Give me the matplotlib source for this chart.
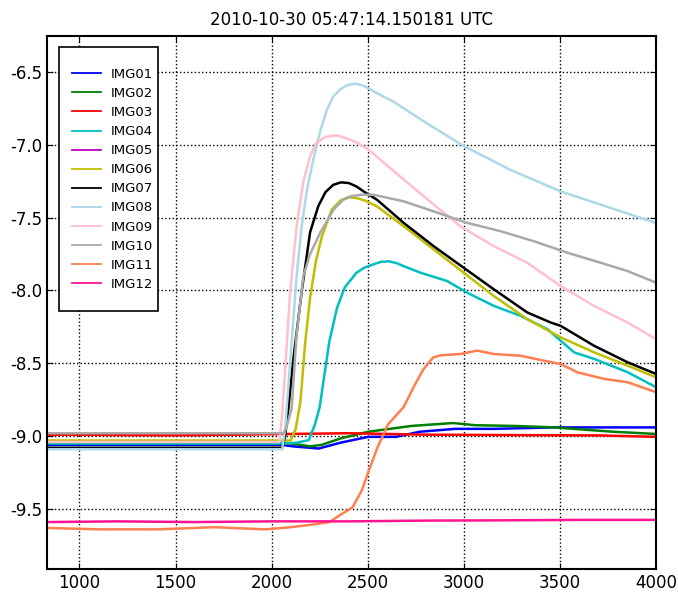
import numpy as np
import matplotlib
matplotlib.use("Agg")
import matplotlib.pyplot as plt
from matplotlib.path import Path

plt.rcParams['axes.unicode_minus'] = False
plt.rcParams['font.family'] = ['DejaVu Sans']

# ---- datos ----
t01 = [831, 2050, 2110, 2245, 2358, 2502, 2646, 2770, 2955, 3160, 3469, 3675, 4000]
v01 = [-9.06, -9.06, -9.07, -9.085, -9.045, -9.005, -9.005, -8.97, -8.95, -8.95, -8.94, -8.94, -8.94]

t02 = [831, 2100, 2200, 2260, 2358, 2502, 2728, 2944, 3058, 3263, 3469, 3778, 4000]
v02 = [-9.05, -9.05, -9.07, -9.06, -9.016, -8.97, -8.93, -8.91, -8.925, -8.93, -8.94, -8.97, -8.985]

t03 = [831, 1500, 2100, 2400, 2800, 3300, 3700, 4000]
v03 = [-8.99, -8.995, -8.985, -8.98, -8.99, -8.993, -8.995, -9.005]

t04 = [831, 2080, 2132, 2193, 2225, 2250, 2300, 2340, 2380, 2440, 2480, 2530, 2570, 2610,
       2650, 2687, 2774, 2913, 3017, 3156, 3295, 3434, 3574, 3678, 3852, 4000]
v04 = [-9.05, -9.05, -9.045, -9.027, -8.92, -8.8, -8.35, -8.12, -7.98, -7.88, -7.845, -7.82,
       -7.803, -7.8, -7.812, -7.833, -7.878, -7.935, -8.015, -8.106, -8.174, -8.265, -8.425,
       -8.47, -8.561, -8.664]

t05 = []
v05 = []

t06 = [831, 2100, 2125, 2150, 2175, 2200, 2230, 2261, 2313, 2360, 2400, 2440, 2490, 2548,
       2687, 2843, 2999, 3156, 3330, 3504, 3678, 3852, 4000]
v06 = [-9.03, -9.03, -8.95, -8.76, -8.35, -8.05, -7.8, -7.63, -7.445, -7.38, -7.36, -7.365,
       -7.385, -7.423, -7.559, -7.718, -7.878, -8.038, -8.197, -8.322, -8.425, -8.516, -8.596]

t07 = [831, 2055, 2070, 2087, 2113, 2156, 2200, 2243, 2280, 2320, 2360, 2400, 2440, 2490,
       2548, 2687, 2843, 2999, 3156, 3330, 3452, 3504, 3678, 3852, 4000]
v07 = [-9.08, -9.08, -9.0, -8.81, -8.47, -8.01, -7.6, -7.42, -7.325, -7.275, -7.258, -7.262,
       -7.285, -7.33, -7.377, -7.536, -7.696, -7.844, -7.992, -8.151, -8.22, -8.243, -8.38,
       -8.493, -8.573]

t08 = [831, 2055, 2070, 2090, 2110, 2130, 2156, 2185, 2217, 2250, 2287, 2320, 2356, 2395,
       2435, 2480, 2540, 2635, 2808, 2999, 3243, 3504, 3765, 4000]
v08 = [-9.09, -9.09, -8.95, -8.6, -8.25, -7.9, -7.56, -7.3, -7.1, -6.92, -6.76, -6.67, -6.62,
       -6.59, -6.58, -6.595, -6.64, -6.705, -6.853, -7.008, -7.172, -7.32, -7.434, -7.537]

t09 = [831, 2040, 2055, 2070, 2096, 2130, 2165, 2200, 2230, 2280, 2340, 2400, 2450, 2496,
       2669, 2843, 2982, 3156, 3330, 3504, 3678, 3852, 4000]
v09 = [-9.04, -9.04, -8.85, -8.55, -8.01, -7.56, -7.25, -7.08, -6.99, -6.945, -6.935, -6.96,
       -6.99, -7.024, -7.218, -7.41, -7.56, -7.696, -7.81, -7.97, -8.106, -8.22, -8.334]

t10 = [831, 2060, 2075, 2104, 2130, 2165, 2200, 2252, 2322, 2370, 2409, 2470, 2530, 2687,
       2843, 3017, 3191, 3365, 3539, 3713, 3852, 4000]
v10 = [-8.98, -8.98, -8.95, -8.81, -8.3, -7.9, -7.75, -7.605, -7.445, -7.38, -7.354, -7.342,
       -7.343, -7.388, -7.457, -7.536, -7.593, -7.662, -7.741, -7.81, -7.867, -7.946]

t11 = [831, 1100, 1412, 1700, 1967, 2100, 2214, 2300, 2358, 2420, 2470, 2502, 2550, 2605,
       2687, 2740, 2790, 2840, 2878, 2982, 3069, 3156, 3295, 3417, 3504, 3591, 3730, 3852, 4000]
v11 = [-9.63, -9.64, -9.64, -9.625, -9.64, -9.625, -9.607, -9.59, -9.54, -9.49, -9.37, -9.25,
       -9.08, -8.92, -8.8, -8.66, -8.54, -8.46, -8.445, -8.436, -8.413, -8.436, -8.448, -8.482,
       -8.505, -8.562, -8.607, -8.63, -8.698]

t12 = [831, 1200, 1600, 2000, 2400, 2800, 3200, 3600, 4000]
v12 = [-9.59, -9.585, -9.59, -9.585, -9.585, -9.58, -9.578, -9.575, -9.575]

series = [(t01, v01), (t02, v02), (t03, v03), (t04, v04), (t05, v05), (t06, v06),
          (t07, v07), (t08, v08), (t09, v09), (t10, v10), (t11, v11), (t12, v12)]
nombres = ["IMG%02d" % (i + 1) for i in range(12)]
colores = ['b', 'g', 'r', 'c', 'm', 'y', 'k', 'lightblue', 'pink', 'darkgray', 'coral', 'deeppink']

fig = plt.figure(figsize=(6.78, 5.93), dpi=100)
ax = fig.add_axes([0.0693, 0.0405, 0.8983, 0.8988])

for (t, v), nom, col in zip(series, nombres, colores):
    ax.plot(t, v, color=col, lw=1.8, label=nom)

ax.set_xlim(831, 4000)
ax.set_ylim(-9.912, -6.253)
ax.set_xticks([1000, 1500, 2000, 2500, 3000, 3500, 4000])
ax.set_yticks([-9.5, -9.0, -8.5, -8.0, -7.5, -7.0, -6.5])
ax.grid(True, color='k', linestyle=':', linewidth=1)
ax.tick_params(direction='in', top=True, right=True, labelsize=12, length=4)
for s in ax.spines.values():
    s.set_linewidth(1.5)

ax.set_title("2010-10-30 05:47:14.150181 UTC", fontsize=12, pad=8)


# caja de la leyenda con margenes distintos (px): izq, der, arriba, abajo
def caja(x0, y0, w, h, mutation_size):
    iz, de, ar, ab = 13, 5, 21, 20
    return Path([(x0 - iz, y0 - ab), (x0 + w + de, y0 - ab), (x0 + w + de, y0 + h + ar),
                 (x0 - iz, y0 + h + ar), (x0 - iz, y0 - ab)], closed=True)


leg = ax.legend(loc='upper left', bbox_to_anchor=(0.041, 0.94), fontsize=9.5,
                fancybox=False, framealpha=1, edgecolor='k', handlelength=2.2,
                labelspacing=0.46, borderaxespad=0, borderpad=0, handletextpad=0.75)
leg.get_frame().set_boxstyle(caja)
leg.get_frame().set_linewidth(1.2)
for h in leg.get_lines():
    h.set_linewidth(1.3)

fig.savefig("out.png", dpi=100)
